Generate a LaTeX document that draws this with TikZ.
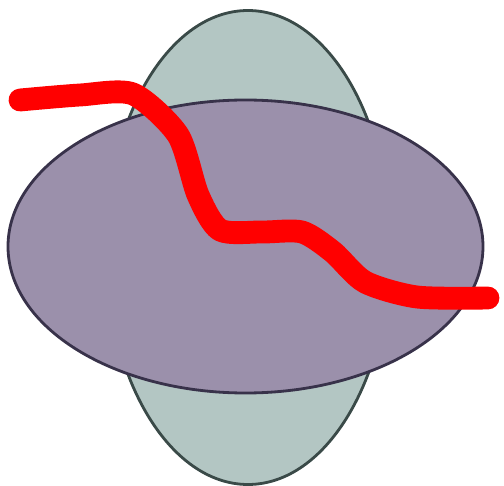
\documentclass[tikz,border=0pt]{standalone}
\usepackage{amsmath}
\usetikzlibrary{arrows.meta}

\definecolor{sagefill}{HTML}{B3C6C3}
\definecolor{sageline}{HTML}{3A4A48}
\definecolor{lilacfill}{HTML}{9B90AB}
\definecolor{lilacline}{HTML}{38324A}

\begin{document}
\begin{tikzpicture}[x=0.02cm, y=-0.02cm,
        blob/.style={line width=1.6pt},
        path line/.style={red, line width=13pt, line cap=round, line join=round}]
                \useasboundingbox (0,0) rectangle (504,486);

                % the two regions
                \draw[blob, fill=sagefill, draw=sageline] (248,247.5) ellipse [x radius=142, y radius=237];
                \draw[blob, fill=lilacfill, draw=lilacline] (245.5,246.5) ellipse [x radius=237.5, y radius=146.5];

                % the path across them
                \draw[path line] plot[smooth, tension=0.45] coordinates {
                    (20,100) (80,95) (133,94) (178,135) (198,195) (220,230)
                    (262,232) (302,232) (333,252) (365,282) (417,297) (488,298)};
            \end{tikzpicture}
\end{document}
